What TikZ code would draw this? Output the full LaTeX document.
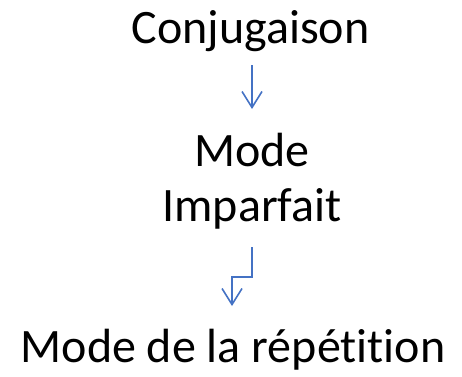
\documentclass[tikz,border=0pt]{standalone}
\usepackage{fontspec}
\setmainfont{Carlito}[Ligatures={NoCommon}]
\usetikzlibrary{arrows.meta}
\definecolor{arrowblue}{HTML}{4472C4}
\tikzset{
  lbl/.style={anchor=base, inner sep=0pt, font=\fontsize{48}{52}\selectfont},
  conn/.style={draw=arrowblue, line width=1.6pt, -{Straight Barb[length=16pt,width=20pt,line width=1.6pt]}}
}
\begin{document}
\begin{tikzpicture}[x=1pt,y=-1pt]
\useasboundingbox (0,0) rectangle (462,376);
\node[lbl] (conj) at (250.5,43) {Conjugaison};
\node[lbl] (mode) at (252,166) {Mode};
\node[lbl] (imp) at (252,221) {Imparfait};
\node[lbl] (rep) at (233,362) {Mode de la répét\kern0pt it\kern0pt ion};
\coordinate (a1s) at (252,65);
\coordinate (a1e) at (252,109);
\coordinate (a2s) at (252,247);
\coordinate (a2m1) at (252,277);
\coordinate (a2m2) at (232,277);
\coordinate (a2e) at (232,306);
\draw[conn] (a1s) -- (a1e);
\draw[conn] (a2s) -- (a2m1) -- (a2m2) -- (a2e);
\end{tikzpicture}
\end{document}
